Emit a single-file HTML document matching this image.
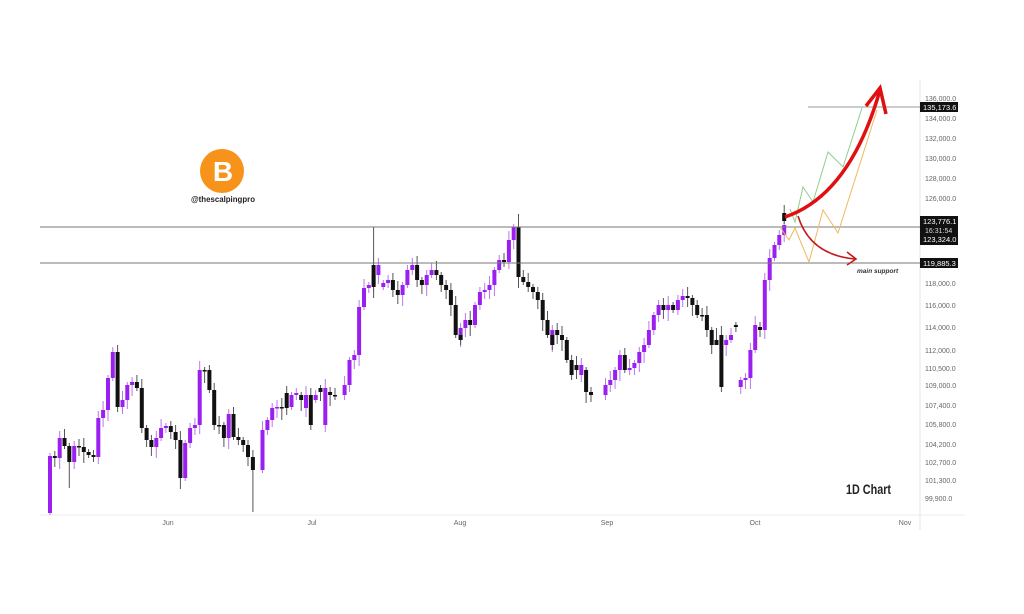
<!DOCTYPE html>
<html><head><meta charset="utf-8"><style>
html,body{margin:0;padding:0;background:#fff;width:1024px;height:614px;overflow:hidden}
svg{display:block}
text{font-family:"Liberation Sans",sans-serif}
</style></head><body>
<svg width="1024" height="614" xmlns="http://www.w3.org/2000/svg">
<line x1="920" y1="80" x2="920" y2="530" stroke="#e6e6e6" stroke-width="1"/>
<line x1="40" y1="515" x2="965" y2="515" stroke="#eee" stroke-width="1"/>

<!-- purple wicks -->
<path fill="none" stroke="#b878f2" stroke-width="1" d="
M50 453V515 M59.7 431V469 M74.2 441V469 M98.3 411V464 M103.1 401V427 M108 375V421 M112.8 347V381
M122.5 391V414 M127.3 382V409 M132.1 377V396 M156.3 431V458 M161.1 419V441 M165.9 423V433
M185.2 440V481 M190.1 423V448 M194.9 418V435 M199.7 361V434 M228.7 409V449
M262.5 421V473 M267.4 417V435 M272.2 403V427 M277 400V418 M291.5 392V410 M296.3 388V400 M306 386V417 M315.7 390V403
M325.3 379V432 M344.6 376V400 M349.5 357V392 M354.3 350V369 M359.1 300V366 M364 279V310 M368.8 282V293 M373.6 270V292 M378.4 258V284
M383.3 280V290 M388.1 275V288 M402.6 282V306 M407.4 265V288 M412.3 258V275 M426.7 270V296 M431.6 263V278
M460.6 323V347 M465.4 313V337 M475 302V328 M479.9 287V310 M484.7 283V299 M489.5 276V299 M494.4 267V296 M499.2 255V273
M508.9 231V269 M513.7 224V249 M552.3 325V352 M581.3 358V382
M605.5 378V400 M610.3 371V392 M615.1 367V389 M619.9 350V381 M629.6 359V375 M634.4 360V375 M639.3 347V372 M644.1 338V363
M648.9 321V348 M653.8 312V335 M658.6 300V322 M668.2 296V321 M677.9 295V315 M682.7 289V307
M726.2 335V356 M731 328V343 M740.7 377V394 M745.5 373V389 M750.4 343V389 M755.2 316V353
M764.8 273V339 M769.7 249V291 M774.5 242V261 M779.3 230V250 M784.2 218V242"/>
<!-- purple bodies -->
<path fill="none" stroke="#9b1ff0" stroke-width="4" d="
M50 456V513 M59.7 438V458 M74.2 446V462 M98.3 418V457 M103.1 410V418 M108 378V410 M112.8 352V378
M122.5 400V407 M127.3 385V400 M132.1 382V385 M156.3 438V447 M161.1 428V438 M165.9 426V428
M185.2 443V478 M190.1 428V443 M194.9 425V428 M199.7 370V425 M228.7 414V438
M262.5 430V470 M267.4 420V430 M272.2 408V420 M277 407V408.5 M291.5 395V407 M296.3 393V395 M306 395V408 M315.7 395V400
M325.3 388V425 M344.6 385V395 M349.5 360V385 M354.3 355V360 M359.1 307V355 M364 288V307 M368.8 285V288 M373.6 275V285 M378.4 265V275
M383.3 283V287 M388.1 280V283 M402.6 285V295 M407.4 270V285 M412.3 265V270 M426.7 275V285 M431.6 270V275
M460.6 328V340 M465.4 320V328 M475 305V325 M479.9 292V305 M484.7 290V292 M489.5 285V290 M494.4 270V285 M499.2 260V270
M508.9 240V262 M513.7 227V240 M552.3 330V345 M581.3 365V375
M605.5 385V395 M610.3 380V385 M615.1 370V380 M619.9 355V370 M629.6 368V370 M634.4 363V368 M639.3 352V363 M644.1 345V352
M648.9 330V345 M653.8 315V330 M658.6 305V315 M668.2 305V310 M677.9 300V310 M682.7 296V300
M726.2 340V345 M731 335V340 M740.7 380V387 M745.5 378V380 M750.4 350V378 M755.2 325V350
M764.8 280V330 M769.7 258V280 M774.5 245V258 M779.3 235V245 M784.2 225V235"/>
<!-- black wicks -->
<path fill="none" stroke="#555" stroke-width="1" d="
M54.8 451V467 M64.5 429V449 M69.3 443V488 M79 439V456 M83.8 438V463 M88.6 449V458 M93.5 450V462
M117.6 345V412 M136.9 375V391 M141.8 379V433 M146.6 425V447 M151.4 435V456 M170.8 421V439 M175.6 425V449 M180.4 431V489
M204.6 367V383 M209.4 365V393 M214.2 383V430 M219.1 416V434 M223.9 422V447 M233.5 407V440 M238.4 428V445 M243.2 437V452 M248 440V466 M252.9 450V512
M281.8 398V420 M286.7 386V415 M301.2 392V411 M310.8 388V430 M320.5 385V401 M330.1 387V406 M335 388V400
M354.3 0V0 M378.4 0V0 M373.6 227V298 M392.9 273V297 M397.8 281V304 M417.1 256V287 M421.9 277V294
M436.4 261V280 M441.2 272V292 M446.1 280V299 M450.9 283V316 M455.7 296V338 M460.6 332V345 M470.2 311V336
M504 253V267 M518.5 214V288 M523.3 270V285 M528.2 273V292 M533 284V299 M537.8 287V309 M542.7 293V331 M547.5 311V338 M552.3 332V350
M557.2 323V344 M562 326V351 M566.8 337V363 M571.6 355V380 M576.5 356V379 M586.1 367V403 M591 387V402
M624.8 348V373 M663.4 298V319 M673.1 302V313 M687.6 287V307 M692.4 295V316 M697.2 300V318 M702.1 308V321 M706.9 306V337 M711.7 327V354
M716.5 328V343 M721.4 326V392 M735.9 322V332 M760 322V337 M784.2 205V224"/>
<!-- black bodies -->
<path fill="none" stroke="#111" stroke-width="4" d="
M54.8 456V458 M64.5 438V446 M69.3 446V462 M79 446V447.5 M83.8 447V452 M88.6 452V455 M93.5 455V457
M117.6 352V407 M136.9 382V388 M141.8 388V428 M146.6 428V440 M151.4 440V447 M170.8 426V432 M175.6 432V440 M180.4 440V478
M204.6 370V371.5 M209.4 370V390 M214.2 390V425 M219.1 425V426.5 M223.9 425V438 M233.5 414V437 M238.4 437V440 M243.2 440V445 M248 445V457 M252.9 457V470
M281.8 407V408.5 M286.7 393V408 M301.2 395V400 M310.8 395V425 M320.5 388V392 M330.1 392V395 M335 395V396.5
M373.6 265V287 M392.9 280V290 M397.8 290V295 M417.1 265V280 M421.9 280V285
M436.4 270V275 M441.2 275V285 M446.1 285V290 M450.9 290V305 M455.7 305V335 M460.6 335V340 M470.2 320V325
M504 260V262 M518.5 227V277 M523.3 277V282 M528.2 282V287 M533 287V292 M537.8 292V300 M542.7 300V320 M547.5 320V335 M552.3 335V345
M557.2 330V335 M562 335V340 M566.8 340V360 M571.6 360V375 M576.5 365V370 M586.1 370V392 M591 392V395
M624.8 355V370 M663.4 305V310 M673.1 305V310 M687.6 296V298 M692.4 298V305 M697.2 305V315 M702.1 315V316.5 M706.9 315V330 M711.7 330V345
M716.5 340V345 M721.4 335V387 M735.9 325V327 M760 327V330 M784.2 213V221"/>

<line x1="40" y1="227" x2="920" y2="227" stroke="#777" stroke-width="1"/>
<line x1="40" y1="263" x2="920" y2="263" stroke="#777" stroke-width="1"/>
<line x1="808" y1="107" x2="920" y2="107" stroke="#999" stroke-width="1"/>
<polyline points="790,209 795,222 803,187 813,202 828,152 843,167 862,108" fill="none" stroke="#8fcf8f" stroke-width="1"/>
<polyline points="780,227 789,240 795,228 809,262 823,210 838,233 877,110" fill="none" stroke="#f0b860" stroke-width="1"/>
<path d="M785,217 Q850,195 880,90" fill="none" stroke="#e01010" stroke-width="3.5"/>
<path d="M866,106 L880,88 L886,114" fill="none" stroke="#e01010" stroke-width="3.5"/>
<path d="M798,216 Q810,255 855,259" fill="none" stroke="#c81818" stroke-width="1.6"/>
<path d="M847,252 L856,259 L847,265" fill="none" stroke="#c81818" stroke-width="1.6"/>
<text x="857" y="273" font-size="6.5" font-style="italic" font-weight="bold" fill="#333">main support</text>
<text x="846" y="494" font-size="14" font-weight="bold" fill="#222" textLength="45" lengthAdjust="spacingAndGlyphs">1D Chart</text>
<circle cx="222" cy="171" r="22" fill="#f7931a"/>
<text x="223" y="181" font-size="28" font-weight="bold" fill="#fff" text-anchor="middle">B</text>
<text x="191" y="202" font-size="8.5" font-weight="bold" fill="#222" textLength="64" lengthAdjust="spacingAndGlyphs">@thescalpingpro</text>
<g font-size="7" fill="#666" text-anchor="middle">
<text x="168" y="525">Jun</text><text x="312" y="525">Jul</text><text x="460" y="525">Aug</text>
<text x="607" y="525">Sep</text><text x="755" y="525">Oct</text><text x="905" y="525">Nov</text>
</g>
<g font-size="7" fill="#666">
<text x="925" y="101">136,000.0</text><text x="925" y="121">134,000.0</text><text x="925" y="141">132,000.0</text>
<text x="925" y="161">130,000.0</text><text x="925" y="181">128,000.0</text><text x="925" y="201">126,000.0</text>
<text x="925" y="286">118,000.0</text><text x="925" y="308">116,000.0</text><text x="925" y="330">114,000.0</text>
<text x="925" y="353">112,000.0</text><text x="925" y="371">110,500.0</text><text x="925" y="388">109,000.0</text>
<text x="925" y="408">107,400.0</text><text x="925" y="427">105,800.0</text><text x="925" y="447">104,200.0</text>
<text x="925" y="465">102,700.0</text><text x="925" y="483">101,300.0</text><text x="925" y="501">99,900.0</text>
</g>
<rect x="920" y="102" width="38" height="10" fill="#111"/>
<text x="923" y="110" font-size="7.5" fill="#fff">135,173.6</text>
<rect x="920" y="216" width="38" height="29" fill="#111"/>
<text x="923" y="224" font-size="7.5" fill="#fff">123,776.1</text>
<text x="925" y="233" font-size="7" fill="#ddd">16:31:54</text>
<text x="923" y="242" font-size="7.5" fill="#fff">123,324.0</text>
<rect x="920" y="258" width="38" height="10" fill="#111"/>
<text x="923" y="266" font-size="7.5" fill="#fff">119,885.3</text>
</svg>
</body></html>
